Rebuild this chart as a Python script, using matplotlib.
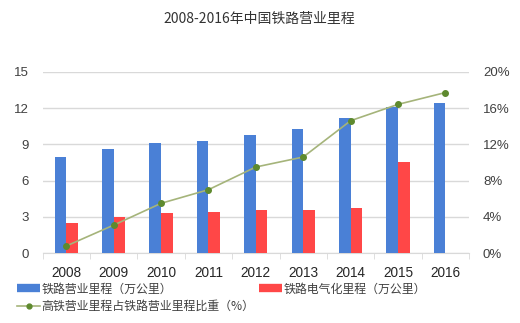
import matplotlib
matplotlib.use("Agg")
import matplotlib.pyplot as plt
import numpy as np
from matplotlib.lines import Line2D
from matplotlib.ticker import FixedLocator, NullFormatter

plt.rcParams['font.family'] = ['Liberation Sans', 'Noto Sans CJK SC', 'DejaVu Sans']

years = ['2008', '2009', '2010', '2011', '2012', '2013', '2014', '2015', '2016']
rail_km = [7.97, 8.6, 9.1, 9.3, 9.8, 10.3, 11.2, 12.1, 12.4]
electrified_km = [2.5, 3.0, 3.3, 3.4, 3.6, 3.6, 3.7, 7.5, np.nan]
hsr_share = [0.8, 3.1, 5.5, 7.0, 9.5, 10.6, 14.6, 16.4, 17.7]

label_rail = '铁路营业里程（万公里）'
label_elec = '铁路电气化里程（万公里）'
label_share = '高铁营业里程占铁路营业里程比重（%）'
title = '2008-2016年中国铁路营业里程'

blue = '#4A80D6'
red = '#FF4747'
line_c = '#A5B47A'
mark_c = '#5E8A2E'
txt = '#404040'

fig = plt.figure(figsize=(5.2, 3.23), dpi=100)
ax = fig.add_axes([0.082, 0.216, 0.82, 0.562])
x = np.arange(len(years))
w = 0.245
ax.bar(x - w / 2, rail_km, w, color=blue, zorder=3)
ax.bar(x + w / 2, electrified_km, w, color=red, zorder=3)
ax.set_xlim(-0.5, len(years) - 0.5)
ax.set_ylim(0, 15)
ax.set_yticks([0, 3, 6, 9, 12, 15])
ax.grid(axis='y', color='#D9D9D9', lw=1, zorder=0)
for s in ['top', 'right', 'left']:
    ax.spines[s].set_visible(False)
ax.spines['bottom'].set_color('#D9D9D9')
ax.tick_params(axis='y', length=0, labelsize=9.5, labelcolor=txt, pad=10)
ax.set_xticks(x)
ax.set_xticklabels(years)
ax.tick_params(axis='x', which='major', length=0, labelsize=9.8, labelcolor='#262626', pad=9)
ax.xaxis.set_minor_locator(FixedLocator(np.arange(-0.5, len(years), 1)))
ax.xaxis.set_minor_formatter(NullFormatter())
ax.tick_params(axis='x', which='minor', length=4, color='#D9D9D9', direction='out')

ax2 = ax.twinx()
ax2.plot(x, hsr_share, color=line_c, lw=1.2, marker='o', ms=4, mfc=mark_c, mec=mark_c, zorder=4)
ax2.set_ylim(0, 20)
ax2.set_yticks([0, 4, 8, 12, 16, 20])
ax2.set_yticklabels([f'{v}%' for v in [0, 4, 8, 12, 16, 20]])
for s in ax2.spines.values():
    s.set_visible(False)
ax2.tick_params(axis='y', length=0, labelsize=9.5, labelcolor=txt, pad=10)

fig.text(0.498, 0.942, title, ha='center', va='center', fontsize=10,
         color='#333333', family=['Noto Sans CJK SC'])

handles = [Line2D([], [], color=blue, lw=6, solid_capstyle='butt'),
           Line2D([], [], color=line_c, lw=1.2, marker='o', ms=3.5, mfc=mark_c, mec=mark_c),
           Line2D([], [], color=red, lw=6, solid_capstyle='butt')]
labels = [label_rail, label_share, label_elec]
leg = fig.legend(handles, labels, ncol=2, loc='upper left', bbox_to_anchor=(0.033, 0.125),
                 frameon=False, handlelength=1.9, handletextpad=0.15,
                 columnspacing=0.4, labelspacing=0.35, borderaxespad=0, borderpad=0,
                 prop={'family': ['Noto Sans CJK SC'], 'size': 8.6})
for t in leg.get_texts():
    t.set_color(txt)

fig.savefig('out.png', dpi=100)
